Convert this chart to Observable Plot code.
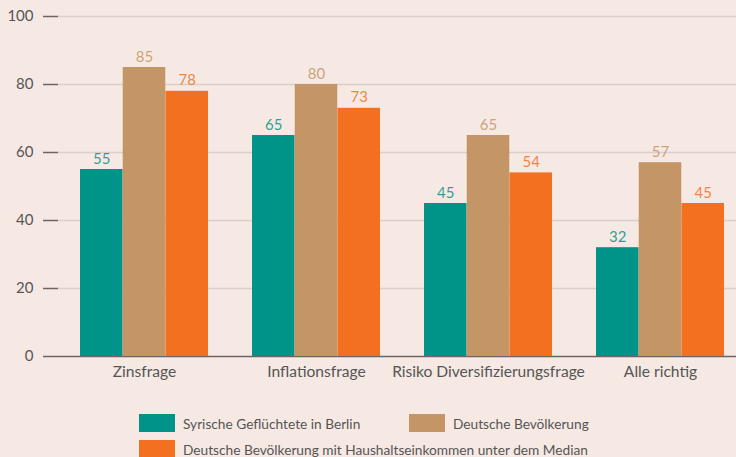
<!DOCTYPE html>
<html>
<head>
<meta charset="utf-8">
<script src="https://cdn.jsdelivr.net/npm/d3@7"></script>
<script src="https://cdn.jsdelivr.net/npm/@observablehq/plot@0.6"></script>
<style>
  html, body { margin: 0; padding: 0; background: #f6e9e4; }
  body { width: 736px; height: 457px; overflow: hidden; font-family: Lato, "Open Sans", sans-serif; }
  #legend { display: grid; grid-template-columns: 270px auto; row-gap: 8px; margin: 18px 0 0 139px; color: #555; font-size: 13.7px; }
  .item { display: flex; align-items: center; height: 18px; white-space: nowrap; }
  .sw { width: 36px; height: 18px; margin-right: 8px; flex: none; }
  .wide { grid-column: 1 / span 2; }
</style>
</head>
<body>
<div id="chart"></div>
<div id="legend"></div>
<script>
const categories = ["Zinsfrage", "Inflationsfrage", "Risiko Diversifizierungsfrage", "Alle richtig"];
const seriesNames = ["Syrische Geflüchtete in Berlin", "Deutsche Bevölkerung", "Deutsche Bevölkerung mit Haushaltseinkommen unter dem Median"];
const syrian = [55, 65, 45, 32];
const german = [85, 80, 65, 57];
const belowMedian = [78, 73, 54, 45];
const yTicks = [0, 20, 40, 60, 80, 100];
const colors = ["#009387", "#c49565", "#f37021"];

const seriesValues = [syrian, german, belowMedian];
const xRange = [79, 724];
const padInner = 0.256;
const step = (xRange[1] - xRange[0]) / (categories.length - padInner);
const bw = step * (1 - padInner);
const third = bw / 3;

const marks = [
  Plot.ruleY(yTicks.filter(d => d > 0), {stroke: "#d9d0cc", strokeWidth: 1.5}),
  Plot.ruleY([0], {stroke: "#6b6463", strokeWidth: 1.5})
];
seriesValues.forEach((vals, i) => {
  const data = categories.map((c, j) => ({category: c, value: vals[j], series: seriesNames[i]}));
  marks.push(Plot.barY(data, {
    x: "category", y: "value", fill: colors[i],
    insetLeft: i * third, insetRight: (2 - i) * third
  }));
  marks.push(Plot.text(data, {
    x: "category", y: "value", text: d => String(d.value),
    dx: (i - 1) * third, dy: -6, lineAnchor: "bottom",
    fill: colors[i], fillOpacity: 0.85, fontSize: 15
  }));
});

const chart = Plot.plot({
  width: 736,
  height: 396,
  marginLeft: 58,
  marginRight: 0,
  marginTop: 16,
  marginBottom: 40,
  style: {fontFamily: "Lato, 'Open Sans', sans-serif", fontSize: "15px", background: "transparent", color: "#555"},
  x: {domain: categories, range: xRange, paddingInner: padInner, paddingOuter: 0, tickSize: 0, tickPadding: 9, label: null},
  y: {domain: [0, 100], ticks: yTicks, tickSize: 15, tickPadding: 10, label: null, line: false},
  marks
});
document.getElementById("chart").appendChild(chart);
chart.querySelectorAll("g[aria-label='y-axis'] line, g[aria-label='y-axis tick'] path").forEach(el => { el.setAttribute("stroke", "#6b6463"); el.setAttribute("stroke-width", "1.5"); });
chart.querySelectorAll("g[aria-label='x-axis'] text, g[aria-label='x-axis tick label'] text").forEach(el => { el.style.fontSize = "15.6px"; });

const legend = document.getElementById("legend");
seriesNames.forEach((name, i) => {
  const div = document.createElement("div");
  div.className = "item" + (i === 2 ? " wide" : "");
  const sw = document.createElement("span");
  sw.className = "sw";
  sw.style.background = colors[i];
  const t = document.createElement("span");
  t.textContent = name;
  div.appendChild(sw);
  div.appendChild(t);
  legend.appendChild(div);
});
</script>
</body>
</html>
